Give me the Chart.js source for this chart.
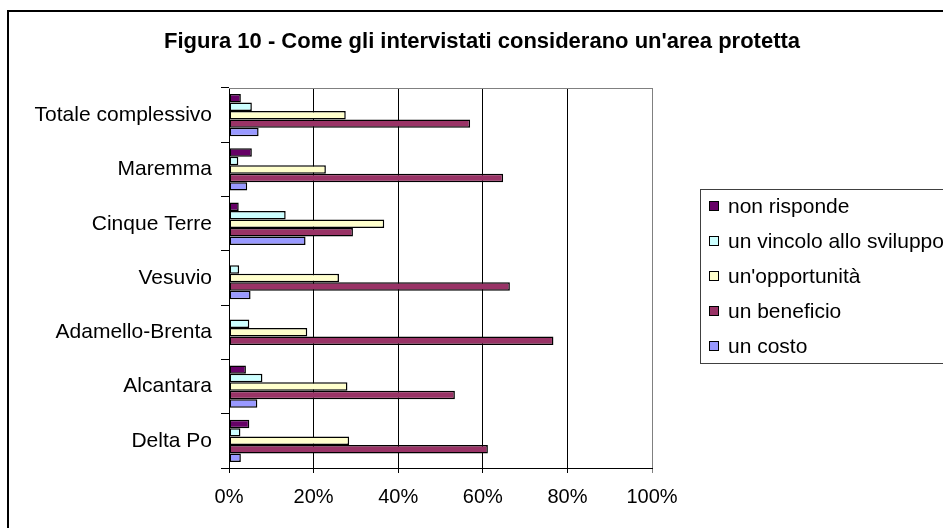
<!DOCTYPE html>
<html>
<head>
<meta charset="utf-8">
<script src="https://cdn.jsdelivr.net/npm/chart.js@4/dist/chart.umd.min.js"></script>
<style>
    html, body { margin: 0; padding: 0; overflow: hidden; background: #fff; }
    #frame { position: absolute; left: 7px; top: 10px; width: 1000px; height: 600px; border: 2px solid #000; }
    #wrap { position: absolute; left: 0; top: 0; width: 946px; height: 506px; }
</style>
</head>
<body>
<div id="frame">
    <div id="wrap"><canvas id="areaChart"></canvas></div>
</div>
<script>
const categories = ['Totale complessivo', 'Maremma', 'Cinque Terre', 'Vesuvio', 'Adamello-Brenta', 'Alcantara', 'Delta Po'];
const nonRisponde = [2.8, 5.4, 2.3, 0, 0, 4.0, 4.8];
const vincolo = [5.4, 2.2, 13.4, 2.4, 4.8, 7.9, 2.7];
const opportunita = [27.6, 22.9, 36.7, 26.0, 18.5, 28.0, 28.4];
const beneficio = [57.0, 64.8, 29.3, 66.4, 76.7, 53.4, 61.2];
const costo = [7.0, 4.3, 18.1, 5.1, 0, 6.7, 2.8];
const xTicks = [0, 20, 40, 60, 80, 100];

Chart.defaults.font.family = "'Liberation Sans', Arial, sans-serif";
Chart.defaults.color = '#000';

function bar(label, data, color) {
    return {
        label: label,
        data: data,
        backgroundColor: color,
        borderColor: '#000',
        borderWidth: 1.5,
        borderSkipped: false,
        categoryPercentage: 0.78,
        barPercentage: 1.0
    };
}

// gray frame around plot area + legend drawn in a box on the right
// (the built-in legend can't get wide enough next to the fixed-width axes)
const framePlugin = {
    id: 'framePlugin',
    beforeDatasetsDraw(chart) {
        const a = chart.chartArea;
        const ctx = chart.ctx;
        ctx.save();
        ctx.strokeStyle = '#808080';
        ctx.lineWidth = 1;
        ctx.beginPath();
        ctx.moveTo(a.left, a.top + 0.5);
        ctx.lineTo(a.right + 0.5, a.top + 0.5);
        ctx.lineTo(a.right + 0.5, a.bottom);
        ctx.stroke();
        ctx.restore();
    },
    afterDraw(chart) {
        const a = chart.chartArea;
        const ctx = chart.ctx;
        const sets = chart.data.datasets;
        const step = 35;
        const x = Math.round(a.right + 57);
        const mid = (a.top + a.bottom) / 2 - 2;
        const y0 = mid - step * (sets.length - 1) / 2;

        ctx.save();
        ctx.strokeStyle = '#404040';
        ctx.lineWidth = 1;
        ctx.strokeRect(x - 9 + 0.5, Math.round(y0 - 17) + 0.5, chart.width, Math.round(step * (sets.length - 1) + 34));

        ctx.font = "21px 'Liberation Sans', Arial, sans-serif";
        ctx.textBaseline = 'middle';
        ctx.textAlign = 'left';
        sets.forEach(function (ds, i) {
            const y = Math.round(y0 + step * i);
            ctx.fillStyle = ds.backgroundColor;
            ctx.fillRect(x, y - 5, 10, 10);
            ctx.strokeStyle = '#000';
            ctx.strokeRect(x + 0.5, y - 4.5, 9, 9);
            ctx.fillStyle = '#000';
            ctx.fillText(ds.label, x + 19, y + 1);
        });
        ctx.restore();
    }
};

new Chart(document.getElementById('areaChart'), {
    type: 'bar',
    data: {
        labels: categories,
        datasets: [
            bar('non risponde', nonRisponde, '#660066'),
            bar('un vincolo allo sviluppo', vincolo, '#CCFFFF'),
            bar("un'opportunità", opportunita, '#FFFFCC'),
            bar('un beneficio', beneficio, '#993366'),
            bar('un costo', costo, '#9999FF')
        ]
    },
    plugins: [framePlugin],
    options: {
        indexAxis: 'y',
        responsive: true,
        maintainAspectRatio: false,
        animation: false,
        layout: { padding: 0 },
        scales: {
            x: {
                min: 0,
                max: 100,
                afterBuildTicks: function (scale) {
                    scale.ticks = xTicks.map(v => ({ value: v }));
                },
                afterFit: function (scale) { scale.height = 50; },
                ticks: {
                    font: { size: 20 },
                    padding: 12,
                    callback: function (v) { return v + '%'; }
                },
                grid: {
                    color: function (c) { return c.index === xTicks.length - 1 ? '#808080' : '#000'; },
                    tickLength: 5,
                    lineWidth: 1
                },
                border: { color: '#000', width: 1 }
            },
            y: {
                afterFit: function (scale) { scale.width = 220; },
                ticks: { font: { size: 21 }, padding: 9 },
                grid: { offset: true, drawOnChartArea: false, tickLength: 8, color: '#000' },
                border: { color: '#000', width: 1 }
            },
            legendSpace: {
                type: 'linear',
                position: 'right',
                display: true,
                ticks: { display: false },
                grid: { display: false },
                border: { display: false },
                afterFit: function (scale) { scale.width = 303; }
            }
        },
        plugins: {
            title: {
                display: true,
                text: "Figura 10 - Come gli intervistati considerano un'area protetta",
                font: { size: 22, weight: 'bold' },
                padding: { top: 17, bottom: 32.6 }
            },
            legend: { display: false },
            tooltip: { enabled: false }
        }
    }
});
</script>
</body>
</html>
